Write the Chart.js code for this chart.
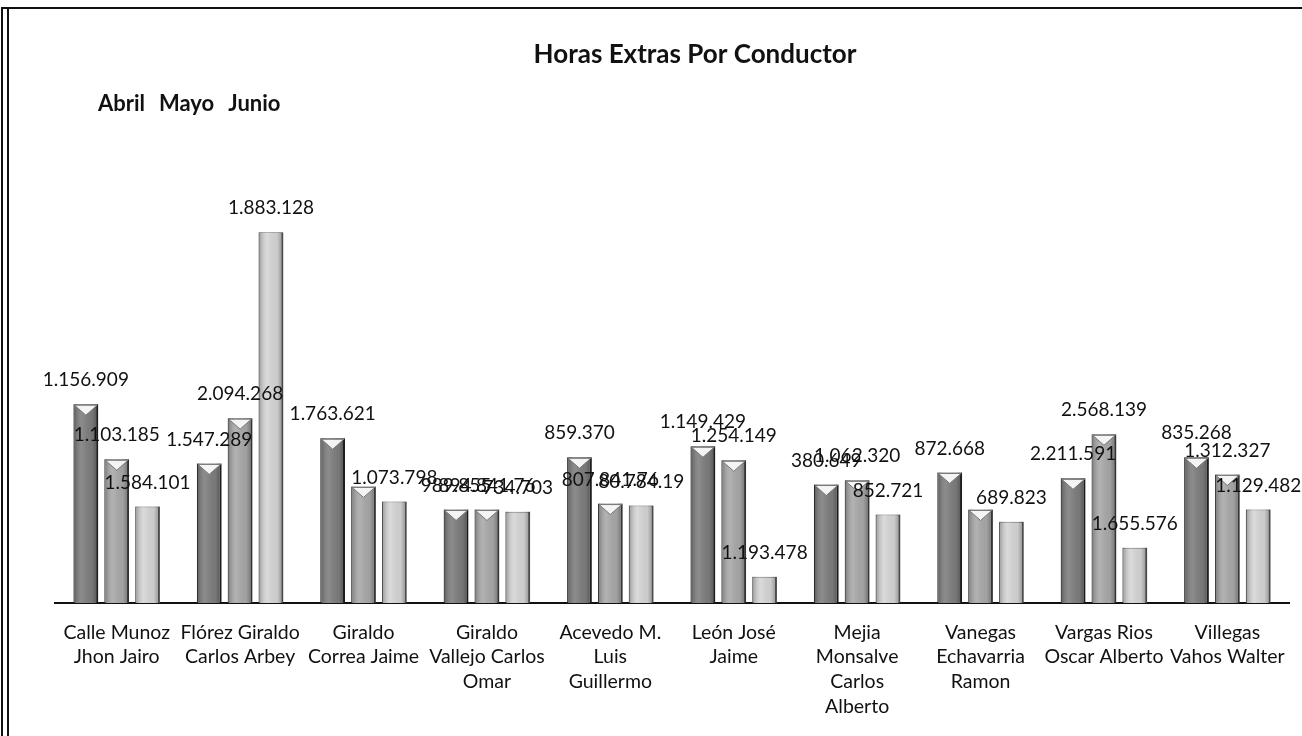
<!DOCTYPE html>
<html><head><meta charset="utf-8">
<script src="https://cdn.jsdelivr.net/npm/chart.js@4.4.1/dist/chart.umd.min.js"></script>
<style>html,body{margin:0;padding:0;background:#fff;}#wrap{width:1302px;height:736px;}</style>
</head><body><div id="wrap"><canvas id="c" width="1302" height="736"></canvas></div>
<script>
const categories = [
  ["Calle Munoz","Jhon Jairo"],
  ["Flórez Giraldo","Carlos Arbey"],
  ["Giraldo","Correa Jaime"],
  ["Giraldo","Vallejo Carlos","Omar"],
  ["Acevedo M.","Luis","Guillermo"],
  ["León José","Jaime"],
  ["Mejia","Monsalve","Carlos","Alberto"],
  ["Vanegas","Echavarria","Ramon"],
  ["Vargas Rios","Oscar Alberto"],
  ["Villegas","Vahos Walter"]
];
const seriesNames = ["Abril","Mayo","Junio"];
const abril = [1010000, 709000, 837000, 475000, 740000, 796000, 602000, 663000, 633000, 740000];
const mayo  = [730000, 939000, 592000, 475000, 505000, 725000, 623000, 475000, 857000, 653000];
const junio = [490000, 1883128, 515000, 464000, 495000, 133000, 449000, 413000, 281000, 475000];
const abrilLabels = ["1.156.909","1.547.289","1.763.621","989.855","859.370","1.149.429","380.649","872.668","2.211.591","835.268"];
const mayoLabels  = ["1.103.185","2.094.268","","894.841.76","807.841.76","1.254.149","1.062.320","","2.568.139","1.312.327"];
const junioLabels = ["1.584.101","1.883.128","1.073.798","734.703","80.784.19","1.193.478","852.721","689.823","1.655.576","1.129.482"];
const chartTitle = "Horas Extras Por Conductor";

const valueLabels = [abrilLabels, mayoLabels, junioLabels];
const FONT = "Lato, 'Open Sans', sans-serif";

const framePlugin = {
  id: 'frame',
  beforeDraw(chart) {
    const ctx = chart.ctx;
    ctx.save();
    ctx.fillStyle = '#fff';
    ctx.fillRect(0, 0, chart.width, chart.height);
    ctx.strokeStyle = '#111';
    ctx.lineWidth = 2;
    ctx.beginPath();
    ctx.moveTo(2, chart.height); ctx.lineTo(2, 8); ctx.lineTo(chart.width, 8);
    ctx.moveTo(8, 9); ctx.lineTo(8, chart.height);
    ctx.stroke();
    ctx.restore();
  }
};

const barDecor = {
  id: 'barDecor',
  afterDatasetsDraw(chart) {
    const ctx = chart.ctx;
    chart.data.datasets.forEach((ds, di) => {
      const meta = chart.getDatasetMeta(di);
      meta.data.forEach(bar => {
        const {x, y, base, width} = bar.getProps(['x','y','base','width'], true);
        const l = x - width / 2, r = x + width / 2;
        const g = ctx.createLinearGradient(l, 0, r, 0);
        g.addColorStop(0, 'rgba(0,0,0,0.30)');
        g.addColorStop(0.35, 'rgba(255,255,255,0.10)');
        g.addColorStop(0.75, 'rgba(0,0,0,0.05)');
        g.addColorStop(1, 'rgba(0,0,0,0.35)');
        ctx.save();
        ctx.fillStyle = g;
        ctx.fillRect(l, y, width, base - y);
        if (di < 2) {
          ctx.beginPath();
          ctx.moveTo(l + 1, y + 1);
          ctx.lineTo(r - 1, y + 1);
          ctx.lineTo(x, y + 11);
          ctx.closePath();
          ctx.fillStyle = '#f4f4f4';
          ctx.fill();
          ctx.strokeStyle = '#777';
          ctx.lineWidth = 1;
          ctx.stroke();
        }
        ctx.restore();
      });
    });
  }
};

const labelPlugin = {
  id: 'valueLabels',
  afterDatasetsDraw(chart) {
    const ctx = chart.ctx;
    ctx.save();
    ctx.font = "19px " + FONT;
    ctx.fillStyle = '#111';
    ctx.textAlign = 'center';
    ctx.textBaseline = 'middle';
    chart.data.datasets.forEach((ds, di) => {
      const meta = chart.getDatasetMeta(di);
      meta.data.forEach((bar, i) => {
        const t = valueLabels[di][i];
        if (t) ctx.fillText(t, bar.x, bar.y - 24);
      });
    });
    ctx.restore();
  }
};

const headerText = {
  id: 'headerText',
  afterDraw(chart) {
    const ctx = chart.ctx;
    ctx.save();
    ctx.fillStyle = '#111';
    ctx.textBaseline = 'middle';
    ctx.textAlign = 'center';
    ctx.font = "bold 26px " + FONT;
    ctx.fillText(chartTitle, 695, 55);
    ctx.textAlign = 'left';
    ctx.font = "bold 22px " + FONT;
    let x = 98;
    chart.data.datasets.forEach(ds => {
      ctx.fillText(ds.label, x, 104);
      x += ctx.measureText(ds.label).width + 14;
    });
    ctx.restore();
  }
};

const series = [abril, mayo, junio];
const fills = ['#7e7e7e', '#a9a9a9', '#d6d6d6'];
const edges = ['#2a2a2a', '#4a4a4a', '#6a6a6a'];

new Chart(document.getElementById('c'), {
  type: 'bar',
  data: {
    labels: categories,
    datasets: series.map((d, i) => ({
      label: seriesNames[i],
      data: d,
      backgroundColor: fills[i],
      borderColor: edges[i],
      borderWidth: {left: 1, right: 2, top: 1, bottom: 0},
      borderSkipped: 'bottom',
      barPercentage: 0.8,
      categoryPercentage: 0.75
    }))
  },
  options: {
    responsive: false,
    animation: false,
    layout: {padding: {left: 55, right: 7, top: 170, bottom: 0}},
    plugins: {
      legend: {display: false},
      tooltip: {enabled: false},
      title: {display: false}
    },
    scales: {
      x: {
        grid: {display: false, drawTicks: false},
        border: {display: true, color: '#111', width: 2},
        ticks: {color: '#111', font: {family: FONT, size: 19.5, lineHeight: 1.27}, padding: 17, maxRotation: 0, autoSkip: false}
      },
      y: {
        display: false,
        min: 0,
        max: 2200000
      }
    }
  },
  plugins: [framePlugin, barDecor, labelPlugin, headerText]
});
</script>
</body></html>
